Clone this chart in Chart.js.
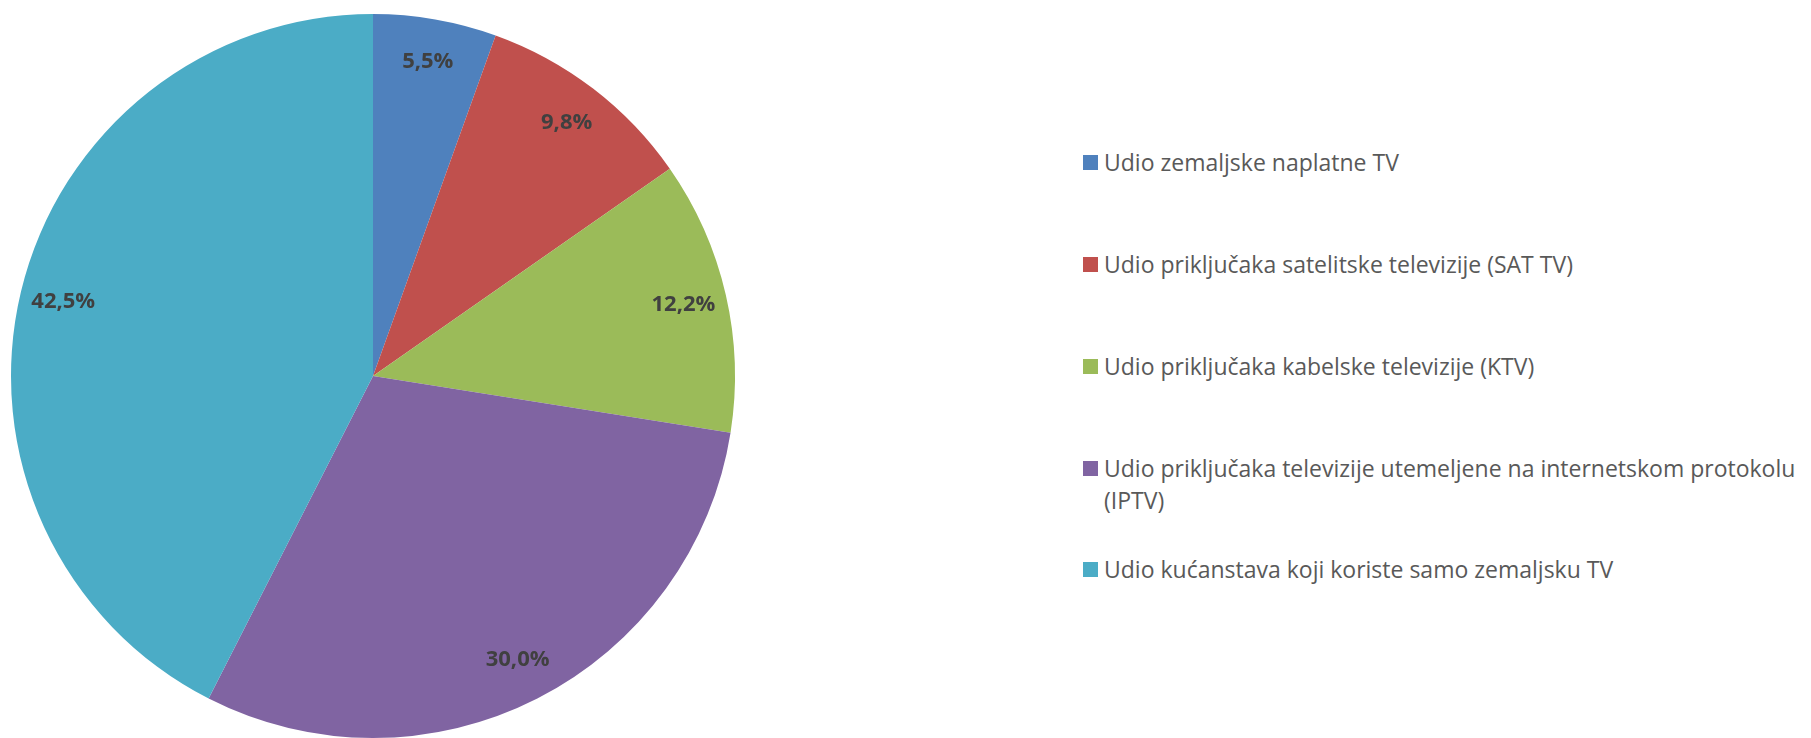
<!DOCTYPE html>
<html>
<head>
<meta charset="utf-8">
<script src="https://cdn.jsdelivr.net/npm/chart.js@4/dist/chart.umd.min.js"></script>
<style>
    html, body { margin: 0; padding: 0; background: #fff; }
    #wrap { position: relative; width: 1811px; height: 738px; overflow: hidden; }
    #pieBox { position: absolute; left: 0; top: 0; width: 760px; height: 738px; }
    #legend { position: absolute; left: 1083px; top: 0; width: 728px; height: 738px; font-family: "Open Sans", sans-serif; font-size: 23px; color: #595959; }
    .item { position: absolute; left: 0; width: 726px; display: flex; align-items: flex-start; line-height: 32px; }
    .swatch { width: 15px; height: 15px; flex: none; margin-top: 9px; margin-right: 6px; }
</style>
</head>
<body>
<div id="wrap">
    <div id="pieBox"><canvas id="pieChart"></canvas></div>
    <div id="legend"></div>
</div>
<script>
const categories = [
    'Udio zemaljske naplatne TV',
    'Udio priključaka satelitske televizije (SAT TV)',
    'Udio priključaka kabelske televizije (KTV)',
    'Udio priključaka televizije utemeljene na internetskom protokolu (IPTV)',
    'Udio kućanstava koji koriste samo zemaljsku TV'
];
const shares = [5.5, 9.8, 12.2, 30.0, 42.5];
const sliceColors = ['#4F81BD', '#C0504D', '#9BBB59', '#8064A2', '#4BACC6'];

// percent labels inside the slices, near the rim
const sliceLabels = {
    id: 'sliceLabels',
    afterDatasetsDraw(chart) {
        const ctx = chart.ctx;
        const meta = chart.getDatasetMeta(0);
        ctx.save();
        ctx.font = 'bold 22px "Open Sans", sans-serif';
        ctx.fillStyle = '#404040';
        ctx.textAlign = 'center';
        ctx.textBaseline = 'middle';
        meta.data.forEach((arc, i) => {
            const p = arc.getProps(['x', 'y', 'startAngle', 'endAngle', 'outerRadius'], true);
            const mid = (p.startAngle + p.endAngle) / 2;
            const r = p.outerRadius * 0.88;
            const text = shares[i].toFixed(1).replace('.', ',') + '%';
            ctx.fillText(text, p.x + Math.cos(mid) * r, p.y + Math.sin(mid) * r);
        });
        ctx.restore();
    }
};

new Chart(document.getElementById('pieChart'), {
    type: 'pie',
    data: {
        labels: categories,
        datasets: [{
            data: shares,
            backgroundColor: sliceColors,
            borderWidth: 0
        }]
    },
    options: {
        responsive: true,
        maintainAspectRatio: false,
        animation: false,
        layout: { padding: { left: 11, right: 25, top: 14, bottom: 0 } },
        plugins: {
            legend: { display: false },
            tooltip: { enabled: false }
        }
    },
    plugins: [sliceLabels]
});

// legend on the right, one row per category
const legend = document.getElementById('legend');
const rowTops = [146, 248, 350, 452, 553];
categories.forEach((name, i) => {
    const item = document.createElement('div');
    item.className = 'item';
    item.style.top = rowTops[i] + 'px';
    item.innerHTML = `<span class="swatch" style="background:${sliceColors[i]}"></span><span>${name}</span>`;
    legend.appendChild(item);
});
</script>
</body>
</html>
